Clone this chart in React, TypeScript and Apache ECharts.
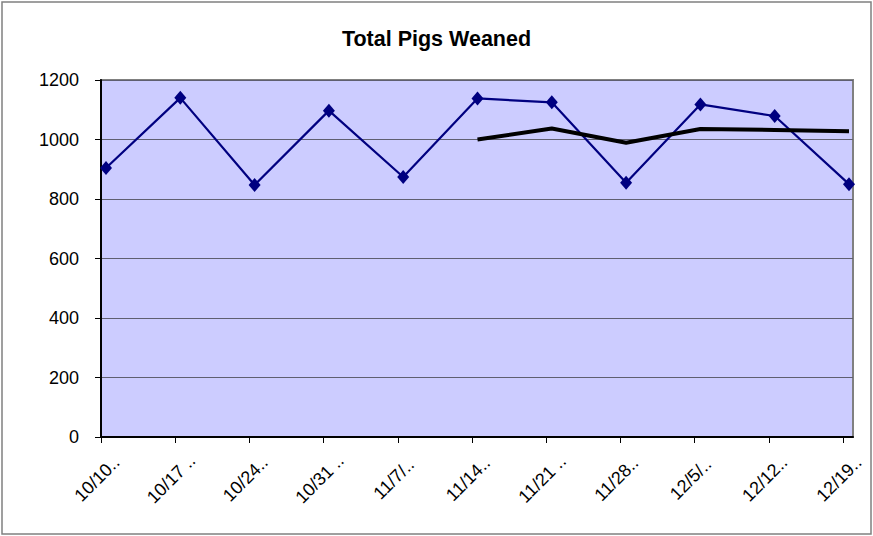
import React, { useEffect, useRef } from "react";
import * as echarts from "echarts";

const categories = ["10/10..", "10/17 ..", "10/24..", "10/31 ..", "11/7/..", "11/14..", "11/21 ..", "11/28..", "12/5/..", "12/12..", "12/19.."];
const pigsWeaned = [904, 1140, 847, 1097, 874, 1138, 1125, 855, 1118, 1079, 850];
const movingAvg = [null, null, null, null, null, 1000, 1037, 989, 1035, 1032, 1028];
const yTicks = { min: 0, max: 1200, interval: 200 };

const FONT = "'Liberation Sans', Arial, sans-serif";

export default function App() {
  const ref = useRef<HTMLDivElement>(null);
  useEffect(() => {
    if (!ref.current) return;
    const chart = echarts.init(ref.current, null, { renderer: "svg" });
    const hiddenAxis = {
      axisLine: { show: false },
      axisTick: { show: false },
      axisLabel: { show: false },
      splitLine: { show: false },
    };
    chart.setOption({
      animation: false,
      backgroundColor: "#ffffff",
      title: {
        text: "Total Pigs Weaned",
        left: "center",
        top: 23,
        textStyle: { fontFamily: FONT, fontSize: 21.5, fontWeight: "bold", color: "#000" },
      },
      graphic: [
        {
          type: "rect",
          shape: { x: 2, y: 2, width: 869, height: 532 },
          style: { fill: "none", stroke: "#808080", lineWidth: 1.5 },
          silent: true,
          z: 100,
        },
      ],
      grid: [
        { left: 101, right: 20, top: 80, bottom: 99, show: true, backgroundColor: "#CCCCFF", borderColor: "#808080", borderWidth: 2 },
        { left: 101, right: 30, top: 80, bottom: 99 },
        { left: 106, right: 24, top: 80, bottom: 99 },
        { left: 97, right: 34, top: 80, bottom: 99 },
      ],
      xAxis: [
        {
          gridIndex: 0,
          type: "category",
          data: categories,
          boundaryGap: false,
          axisLine: { show: true, lineStyle: { color: "#000", width: 2 } },
          axisTick: { show: false },
          axisLabel: { show: false },
          splitLine: { show: false },
        },
        {
          gridIndex: 1,
          type: "category",
          data: categories,
          boundaryGap: false,
          axisLine: { show: false },
          axisTick: { show: true, inside: false, length: 6, lineStyle: { color: "#000", width: 1 } },
          axisLabel: { show: false },
          splitLine: { show: false },
        },
        { gridIndex: 2, type: "category", data: categories, boundaryGap: false, ...hiddenAxis },
        {
          gridIndex: 3,
          type: "category",
          data: categories,
          boundaryGap: false,
          axisLine: { show: false },
          axisTick: { show: false },
          axisLabel: {
            show: true,
            interval: 0,
            rotate: 45,
            align: "center",
            verticalAlign: "middle",
            margin: 42,
            fontFamily: FONT,
            fontSize: 18,
            color: "#000",
          },
          splitLine: { show: false },
        },
      ],
      yAxis: [
        {
          gridIndex: 0,
          type: "value",
          ...yTicks,
          axisLine: { show: true, lineStyle: { color: "#000", width: 2 } },
          axisTick: { show: true, inside: false, length: 6, lineStyle: { color: "#000" } },
          axisLabel: { fontFamily: FONT, fontSize: 18, color: "#000", margin: 22, formatter: (v: number) => String(v) },
          splitLine: { show: true, lineStyle: { color: "#5f5f70", width: 1 } },
        },
        { gridIndex: 1, type: "value", ...yTicks, ...hiddenAxis },
        { gridIndex: 2, type: "value", ...yTicks, ...hiddenAxis },
        { gridIndex: 3, type: "value", ...yTicks, ...hiddenAxis },
      ],
      series: [
        {
          name: "Total Pigs Weaned",
          type: "line",
          xAxisIndex: 2,
          yAxisIndex: 2,
          data: pigsWeaned,
          symbol: "diamond",
          symbolSize: [12, 14],
          itemStyle: { color: "#000080" },
          lineStyle: { color: "#000080", width: 2.2 },
          z: 3,
        },
        {
          name: "Moving Average",
          type: "line",
          xAxisIndex: 2,
          yAxisIndex: 2,
          data: movingAvg,
          showSymbol: false,
          symbol: "none",
          lineStyle: { color: "#000", width: 4 },
          z: 4,
        },
      ],
    });
    return () => chart.dispose();
  }, []);
  return <div ref={ref} style={{ position: "fixed", left: 0, top: 0, width: 873, height: 536 }} />;
}
